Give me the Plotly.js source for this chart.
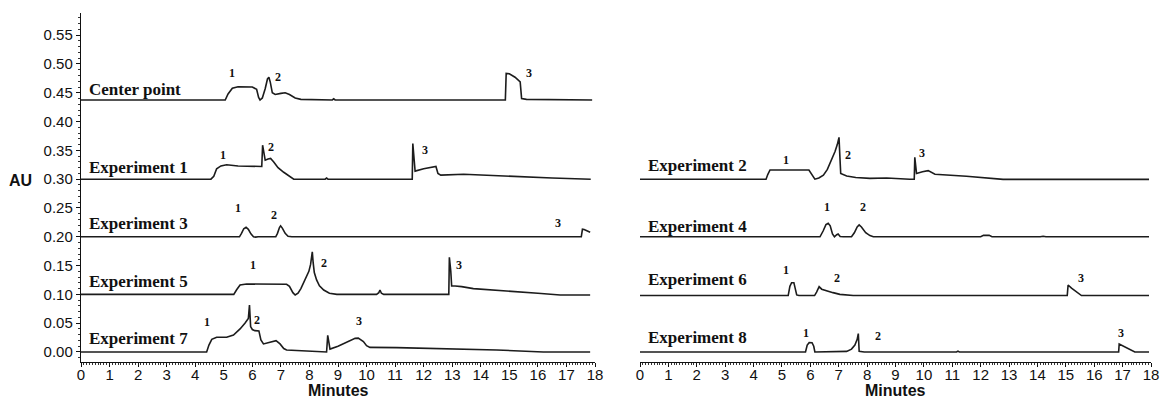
<!DOCTYPE html>
<html>
<head>
<meta charset="utf-8">
<script src="https://cdn.plot.ly/plotly-3.0.1.min.js"></script>
<style>html,body{margin:0;padding:0;background:#fff;}#chart{width:1163px;height:399px;}</style>
</head>
<body>
<div id="chart"></div>
<script>
// ---- Data (time in minutes, absorbance in AU as stacked in the figure) ----
const cpT = [0, 5.05, 5.15, 5.3, 5.5, 6.0, 6.15, 6.22, 6.27, 6.35, 6.45, 6.53, 6.58, 6.63, 6.70, 6.8, 7.0, 7.15, 7.3, 7.5, 7.7, 8.8, 8.85, 8.9, 14.86, 14.89, 15.0, 15.2, 15.38, 15.43, 15.6, 17.9];
const cpY = [0.4375, 0.4375, 0.448, 0.458, 0.4605, 0.460, 0.456, 0.442, 0.4375, 0.441, 0.457, 0.474, 0.477, 0.468, 0.450, 0.447, 0.449, 0.450, 0.447, 0.441, 0.4385, 0.4375, 0.4395, 0.4375, 0.4375, 0.4835, 0.483, 0.477, 0.469, 0.440, 0.4385, 0.4375];

const e1T = [0, 4.0, 4.1, 4.55, 4.65, 4.75, 4.9, 5.1, 5.5, 6.33, 6.36, 6.40, 6.45, 6.55, 6.64, 6.75, 6.9, 7.1, 7.32, 7.45, 8.55, 8.6, 8.65, 11.6, 11.62, 11.66, 11.70, 12.0, 12.43, 12.5, 12.6, 13.4, 14.5, 16.5, 17.85];
const e1Y = [0.300, 0.300, 0.299, 0.300, 0.305, 0.318, 0.323, 0.325, 0.323, 0.322, 0.359, 0.350, 0.333, 0.335, 0.336, 0.330, 0.320, 0.312, 0.304, 0.300, 0.300, 0.302, 0.300, 0.300, 0.362, 0.330, 0.314, 0.318, 0.322, 0.310, 0.307, 0.3085, 0.306, 0.302, 0.300];

const e3T = [0, 5.55, 5.62, 5.7, 5.78, 5.86, 5.95, 6.04, 6.12, 6.2, 6.82, 6.88, 6.95, 6.99, 7.05, 7.15, 7.25, 7.38, 11.0, 11.06, 11.12, 17.52, 17.56, 17.62, 17.71, 17.83];
const e3Y = [0.200, 0.200, 0.206, 0.214, 0.2165, 0.213, 0.205, 0.200, 0.1995, 0.200, 0.200, 0.206, 0.216, 0.219, 0.215, 0.206, 0.201, 0.200, 0.200, 0.2005, 0.200, 0.200, 0.213, 0.2125, 0.210, 0.2077];

const e5T = [0, 5.35, 5.45, 5.57, 5.8, 6.5, 7.2, 7.3, 7.42, 7.5, 7.6, 7.7, 7.8, 7.9, 7.98, 8.04, 8.08, 8.10, 8.13, 8.17, 8.25, 8.35, 8.5, 8.7, 8.96, 10.35, 10.43, 10.47, 10.52, 10.6, 12.88, 12.9, 12.95, 12.98, 13.1, 13.33, 13.74, 15.0, 16.0, 16.78, 17.83];
const e5Y = [0.100, 0.100, 0.108, 0.1163, 0.118, 0.118, 0.1175, 0.114, 0.103, 0.099, 0.102, 0.110, 0.120, 0.130, 0.140, 0.152, 0.165, 0.174, 0.155, 0.138, 0.125, 0.115, 0.1075, 0.102, 0.100, 0.100, 0.103, 0.1076, 0.102, 0.100, 0.100, 0.1645, 0.140, 0.1146, 0.1145, 0.1134, 0.110, 0.106, 0.102, 0.099, 0.099];

const e7T = [0, 4.40, 4.48, 4.58, 4.75, 5.1, 5.34, 5.57, 5.74, 5.86, 5.90, 5.94, 6.0, 6.09, 6.23, 6.30, 6.39, 6.55, 6.74, 6.83, 6.97, 7.1, 7.2, 8.02, 8.6, 8.64, 8.67, 8.72, 9.0, 9.3, 9.6, 9.71, 9.89, 10.0, 10.12, 11.06, 12.5, 14.56, 16.19, 17.83];
const e7Y = [0.000, 0.000, 0.012, 0.022, 0.0255, 0.0255, 0.0295, 0.040, 0.050, 0.058, 0.0816, 0.044, 0.039, 0.037, 0.0365, 0.021, 0.014, 0.016, 0.018, 0.0197, 0.014, 0.006, 0.0035, 0.0017, 0.000, 0.0289, 0.020, 0.005, 0.010, 0.017, 0.0237, 0.024, 0.018, 0.011, 0.008, 0.0075, 0.0058, 0.0035, 0.000, 0.000];

const e2T = [0, 4.44, 4.5, 4.58, 5.95, 6.05, 6.16, 6.3, 6.46, 6.6, 6.69, 6.8, 6.87, 6.95, 7.01, 7.04, 7.07, 7.28, 7.6, 8.1, 8.69, 9.5, 9.66, 9.68, 9.71, 9.74, 9.95, 10.15, 10.39, 11.5, 12.79, 17.93];
const e2Y = [0.300, 0.300, 0.308, 0.316, 0.316, 0.308, 0.300, 0.302, 0.307, 0.317, 0.327, 0.338, 0.348, 0.360, 0.3726, 0.340, 0.310, 0.3056, 0.303, 0.3014, 0.302, 0.300, 0.300, 0.338, 0.322, 0.310, 0.313, 0.3148, 0.3085, 0.305, 0.2996, 0.2996];

const e4T = [0, 6.34, 6.45, 6.55, 6.63, 6.7, 6.78, 6.85, 6.93, 6.98, 7.05, 7.16, 7.45, 7.55, 7.65, 7.72, 7.8, 7.95, 8.1, 8.22, 12.0, 12.1, 12.3, 12.4, 14.1, 14.2, 14.3, 17.93];
const e4Y = [0.200, 0.200, 0.210, 0.221, 0.2233, 0.219, 0.205, 0.200, 0.2035, 0.2049, 0.2005, 0.200, 0.200, 0.207, 0.217, 0.2205, 0.217, 0.207, 0.202, 0.200, 0.200, 0.2025, 0.2025, 0.200, 0.200, 0.201, 0.200, 0.200];

const e6T = [0, 5.22, 5.28, 5.34, 5.42, 5.47, 5.52, 5.6, 6.15, 6.22, 6.31, 6.4, 6.57, 6.8, 7.04, 7.51, 15.05, 15.08, 15.2, 15.35, 15.55, 17.93];
const e6Y = [0.098, 0.098, 0.114, 0.1203, 0.1203, 0.110, 0.099, 0.098, 0.098, 0.104, 0.1134, 0.109, 0.106, 0.103, 0.100, 0.098, 0.098, 0.1163, 0.111, 0.105, 0.098, 0.098];

const e8T = [0, 5.83, 5.89, 5.96, 6.06, 6.12, 6.16, 7.28, 7.45, 7.57, 7.65, 7.69, 7.72, 7.9, 11.15, 11.2, 11.25, 13.6, 13.66, 13.72, 16.86, 16.88, 17.05, 17.25, 17.43, 17.93];
const e8Y = [0.000, 0.000, 0.012, 0.0162, 0.016, 0.010, 0.000, 0.001, 0.005, 0.012, 0.022, 0.032, 0.001, 0.000, 0.000, 0.0015, 0.000, 0.000, 0.0012, 0.000, 0.000, 0.0139, 0.010, 0.005, 0.000, 0.000];

// Series names and label anchor (time, AU) for each chromatogram
const leftNames  = ["Center point", "Experiment 1", "Experiment 3", "Experiment 5", "Experiment 7"];
const leftNameT  = [0.2, 0.2, 0.2, 0.2, 0.2];
const leftNameY  = [0.455, 0.320, 0.2233, 0.122, 0.0226];
const rightNames = ["Experiment 2", "Experiment 4", "Experiment 6", "Experiment 8"];
const rightNameT = [0.21, 0.21, 0.21, 0.21];
const rightNameY = [0.323, 0.218, 0.126, 0.0255];

// Peak numbers (label, time, AU)
const leftPeakLbl = ["1","2","3", "1","2","3", "1","2","3", "1","2","3", "1","2","3"];
const leftPeakT   = [5.3, 6.9, 15.7, 4.97, 6.64, 12.05, 5.51, 6.77, 16.72, 6.04, 8.52, 13.22, 4.40, 6.15, 9.75];
const leftPeakY   = [0.484, 0.477, 0.484, 0.342, 0.356, 0.351, 0.2494, 0.238, 0.2245, 0.151, 0.154, 0.151, 0.0527, 0.0556, 0.0544];
const rightPeakLbl = ["1","2","3", "1","2", "1","2","3", "1","2","3"];
const rightPeakT   = [5.16, 7.31, 9.92, 6.57, 7.86, 5.16, 6.93, 15.55, 5.85, 8.37, 16.96];
const rightPeakY   = [0.333, 0.342, 0.345, 0.251, 0.251, 0.142, 0.128, 0.128, 0.0336, 0.0278, 0.0336];

const xTicks = [0,1,2,3,4,5,6,7,8,9,10,11,12,13,14,15,16,17,18];
const yTicks = [0.00,0.05,0.10,0.15,0.20,0.25,0.30,0.35,0.40,0.45,0.50,0.55];

// ---- Build figure ----
const lineStyle = {color: '#1c1c1c', width: 1.6};
function tr(x, y, name, right) {
  return {x: x, y: y, name: name, type: 'scatter', mode: 'lines', line: lineStyle,
          xaxis: right ? 'x2' : 'x', yaxis: right ? 'y2' : 'y', hoverinfo: 'x+y+name'};
}
const data = [
  tr(cpT, cpY, leftNames[0], false),
  tr(e1T, e1Y, leftNames[1], false),
  tr(e3T, e3Y, leftNames[2], false),
  tr(e5T, e5Y, leftNames[3], false),
  tr(e7T, e7Y, leftNames[4], false),
  tr(e2T, e2Y, rightNames[0], true),
  tr(e4T, e4Y, rightNames[1], true),
  tr(e6T, e6Y, rightNames[2], true),
  tr(e8T, e8Y, rightNames[3], true)
];

const W = 1163, H = 399;
const yRange = [-0.0174, 0.5885];
const serifBold = {family: '"Liberation Serif", "Times New Roman", serif', size: 17, color: '#111'};
const peakFont = {family: '"Liberation Serif", "Times New Roman", serif', size: 12, color: '#111'};
const sansFont = {family: '"Liberation Sans", Arial, sans-serif', size: 15, color: '#111'};
const titleFont = {family: '"Liberation Sans", Arial, sans-serif', size: 16, color: '#111'};

const annotations = [];
leftNames.forEach((n, i) => annotations.push({xref: 'x', yref: 'y', x: leftNameT[i], y: leftNameY[i],
  text: '<b>' + n + '</b>', showarrow: false, xanchor: 'left', yanchor: 'middle', font: serifBold}));
rightNames.forEach((n, i) => annotations.push({xref: 'x2', yref: 'y2', x: rightNameT[i], y: rightNameY[i],
  text: '<b>' + n + '</b>', showarrow: false, xanchor: 'left', yanchor: 'middle', font: serifBold}));
leftPeakLbl.forEach((n, i) => annotations.push({xref: 'x', yref: 'y', x: leftPeakT[i], y: leftPeakY[i],
  text: '<b>' + n + '</b>', showarrow: false, xanchor: 'center', yanchor: 'middle', font: peakFont}));
rightPeakLbl.forEach((n, i) => annotations.push({xref: 'x2', yref: 'y2', x: rightPeakT[i], y: rightPeakY[i],
  text: '<b>' + n + '</b>', showarrow: false, xanchor: 'center', yanchor: 'middle', font: peakFont}));
annotations.push({xref: 'paper', yref: 'paper', x: 20 / W, y: 1 - 181 / H, text: '<b>AU</b>',
  showarrow: false, xanchor: 'center', yanchor: 'middle', font: titleFont});
// x-axis titles
annotations.push({xref: 'x domain', yref: 'paper', x: 0.5, y: 1 - 390 / H, text: '<b>Minutes</b>',
  showarrow: false, xanchor: 'center', yanchor: 'middle', font: titleFont});
annotations.push({xref: 'x2 domain', yref: 'paper', x: 0.5, y: 1 - 390 / H, text: '<b>Minutes</b>',
  showarrow: false, xanchor: 'center', yanchor: 'middle', font: titleFont});

const xCommon = {
  range: [0, 18], tickmode: 'array', tickvals: xTicks, ticktext: xTicks.map(String),
  showline: true, linecolor: '#111', linewidth: 1.2, ticks: 'outside', ticklen: 4, tickwidth: 1,
  tickcolor: '#111', showgrid: false, zeroline: false, tickfont: sansFont, ticklabelstandoff: -5,
  minor: {dtick: 0.1, ticks: 'outside', ticklen: 2, tickwidth: 1, tickcolor: '#333', showgrid: false},
  automargin: false, fixedrange: true
};

const layout = {
  width: W, height: H,
  margin: {l: 0, r: 0, t: 0, b: 0},
  paper_bgcolor: '#fff', plot_bgcolor: '#fff',
  showlegend: false,
  xaxis: Object.assign({}, xCommon, {domain: [81 / W, 595 / W], anchor: 'y'}),
  xaxis2: Object.assign({}, xCommon, {domain: [640 / W, 1151 / W], anchor: 'y2'}),
  yaxis: {
    domain: [1 - 362 / H, 1 - 13 / H], range: yRange, anchor: 'x',
    tickmode: 'array', tickvals: yTicks, ticktext: yTicks.map(v => v.toFixed(2)),
    showline: true, linecolor: '#111', linewidth: 1.2, ticks: 'outside', ticklen: 4, tickwidth: 1,
    tickcolor: '#111', showgrid: false, zeroline: false, tickfont: sansFont,
    minor: {dtick: 0.01, ticks: 'outside', ticklen: 2, tickwidth: 1, tickcolor: '#333', showgrid: false},
    automargin: false, fixedrange: true
  },
  yaxis2: {
    domain: [1 - 362 / H, 1 - 13 / H], range: yRange, anchor: 'x2',
    visible: false, showline: false, showgrid: false, zeroline: false, fixedrange: true
  },
  annotations: annotations
};

Plotly.newPlot('chart', data, layout, {displayModeBar: false, staticPlot: true});
</script>
</body>
</html>
